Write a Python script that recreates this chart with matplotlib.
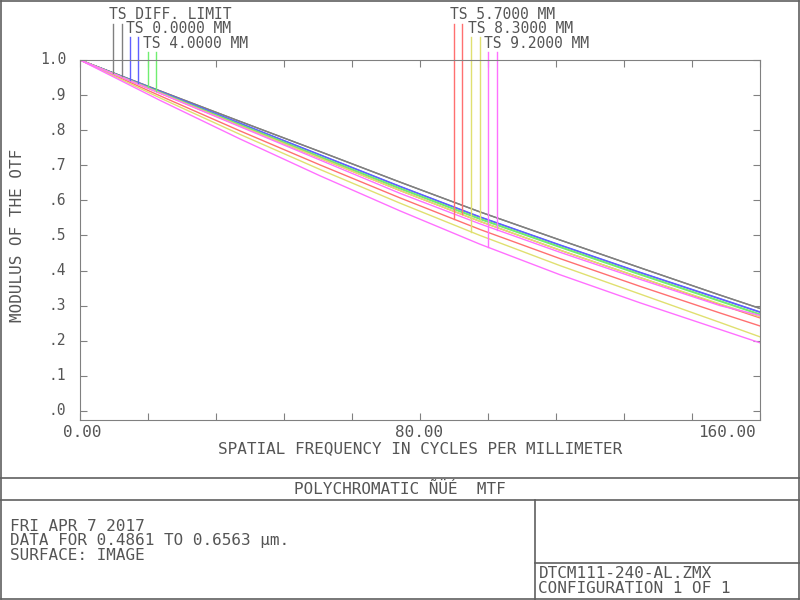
import numpy as np
import matplotlib.pyplot as plt
from matplotlib.lines import Line2D

freq = [0, 20, 40, 60, 80, 100, 120, 140, 160, 170]
diff_limit = [1.0, 0.912, 0.825, 0.739, 0.652, 0.567, 0.487, 0.408, 0.330, 0.292]
f00_t = [1.0, 0.910, 0.820, 0.730, 0.640, 0.553, 0.473, 0.395, 0.320, 0.282]
f00_s = [1.0, 0.910, 0.819, 0.729, 0.639, 0.552, 0.472, 0.394, 0.319, 0.281]
f40_t = [1.0, 0.908, 0.816, 0.725, 0.635, 0.548, 0.468, 0.390, 0.314, 0.276]
f40_s = [1.0, 0.907, 0.815, 0.723, 0.633, 0.546, 0.466, 0.388, 0.312, 0.274]
f57_t = [1.0, 0.898, 0.798, 0.701, 0.607, 0.517, 0.434, 0.355, 0.279, 0.242]
f57_s = [1.0, 0.906, 0.812, 0.720, 0.628, 0.540, 0.458, 0.380, 0.303, 0.265]
f83_t = [1.0, 0.892, 0.788, 0.688, 0.592, 0.500, 0.414, 0.333, 0.252, 0.211]
f83_s = [1.0, 0.906, 0.812, 0.720, 0.628, 0.540, 0.458, 0.380, 0.305, 0.268]
f92_t = [1.0, 0.885, 0.775, 0.670, 0.570, 0.475, 0.388, 0.308, 0.232, 0.194]
f92_s = [1.0, 0.905, 0.810, 0.715, 0.620, 0.533, 0.452, 0.375, 0.300, 0.272]

colors = ['#808080', '#6060ff', '#70ee70', '#ff7070', '#e0e070', '#ff70ff']
curves = [(diff_limit, diff_limit), (f00_t, f00_s), (f40_t, f40_s),
          (f57_t, f57_s), (f83_t, f83_s), (f92_t, f92_s)]
labels = ['TS DIFF. LIMIT', 'TS 0.0000 MM', 'TS 4.0000 MM',
          'TS 5.7000 MM', 'TS 8.3000 MM', 'TS 9.2000 MM']
marker_f = [(8.25, 10.5), (12.5, 14.5), (17.0, 19.0),
            (93.5, 95.5), (97.75, 100.0), (102.0, 104.25)]
label_row = [0, 1, 2, 0, 1, 2]
label_x = [7.3, 11.6, 15.8, 92.6, 96.9, 101.1]

txt = '#555555'
mono = 'DejaVu Sans Mono'
fig = plt.figure(figsize=(8, 6), dpi=100)
ax = fig.add_axes([0.1, 0.3, 0.85, 0.6])
ax.set_xlim(0, 170)
ax.set_ylim(-0.026, 1.0)
for s in ax.spines.values():
    s.set_color('#808080')
ax.set_xticks(np.arange(0, 171, 17))
ax.set_yticks(np.arange(0, 1.01, 0.1))
ax.tick_params(direction='in', length=5, color='#808080', top=True, right=True,
               labelbottom=False, labelleft=False)

for (t, s), c in zip(curves, colors):
    ax.plot(freq, t, color=c, lw=1)
    ax.plot(freq, s, color=c, lw=1)

row_y = [1.108, 1.068, 1.026]
line_top = [1.103, 1.066, 1.023]
for i, c in enumerate(colors):
    r = label_row[i]
    ax.text(label_x[i], row_y[r], labels[i], family=mono, fontsize=10.5,
            color=txt, va='bottom', clip_on=False)
    for j, f in enumerate(marker_f[i]):
        val = np.interp(f, freq, curves[i][j])
        ax.plot([f, f], [val, line_top[r]], color=c, lw=1, clip_on=False)

for v in range(11):
    lab = '1.0' if v == 10 else '.%d' % v
    ax.text(-3.5, v / 10, lab, family=mono, fontsize=10.5, color=txt, ha='right', va='center')
for f, lab in [(0.5, '0.00'), (84.75, '80.00'), (161.75, '160.00')]:
    ax.text(f, -0.04, lab, family=mono, fontsize=11.5, color=txt, ha='center', va='top')
ax.text(85, -0.085, 'SPATIAL FREQUENCY IN CYCLES PER MILLIMETER', family=mono,
        fontsize=11.5, color=txt, ha='center', va='top')
ax.text(-15.5, 0.5, 'MODULUS OF THE OTF', family=mono, fontsize=11.5, color=txt,
        rotation=90, ha='center', va='center')

# frame and info boxes
lc = '#606060'
for seg in [([0.001, 0.999], [0.999, 0.999]), ([0.001, 0.999], [0.001, 0.001]),
            ([0.001, 0.001], [0.001, 0.999]), ([0.999, 0.999], [0.001, 0.999]),
            ([0, 1], [1 - 478 / 600] * 2), ([0, 1], [1 - 500 / 600] * 2),
            ([535 / 800] * 2, [0, 1 - 500 / 600]), ([535 / 800, 1], [1 - 563 / 600] * 2)]:
    fig.add_artist(Line2D(seg[0], seg[1], color=lc, lw=1.2))
fig.text(0.5, 1 - 489 / 600, 'POLYCHROMATIC ÑÜÉ  MTF', family=mono, fontsize=11.5,
         color=txt, ha='center', va='center')
fig.text(0.012, 1 - 541 / 600, 'FRI APR 7 2017\nDATA FOR 0.4861 TO 0.6563 µm.\nSURFACE: IMAGE',
         family=mono, fontsize=11.5, color=txt, va='center', linespacing=0.95)
fig.text(0.673, 1 - 581 / 600, 'DTCM111-240-AL.ZMX\nCONFIGURATION 1 OF 1', family=mono,
         fontsize=11.5, color=txt, va='center', linespacing=0.95)

fig.savefig('out.png', dpi=100)
